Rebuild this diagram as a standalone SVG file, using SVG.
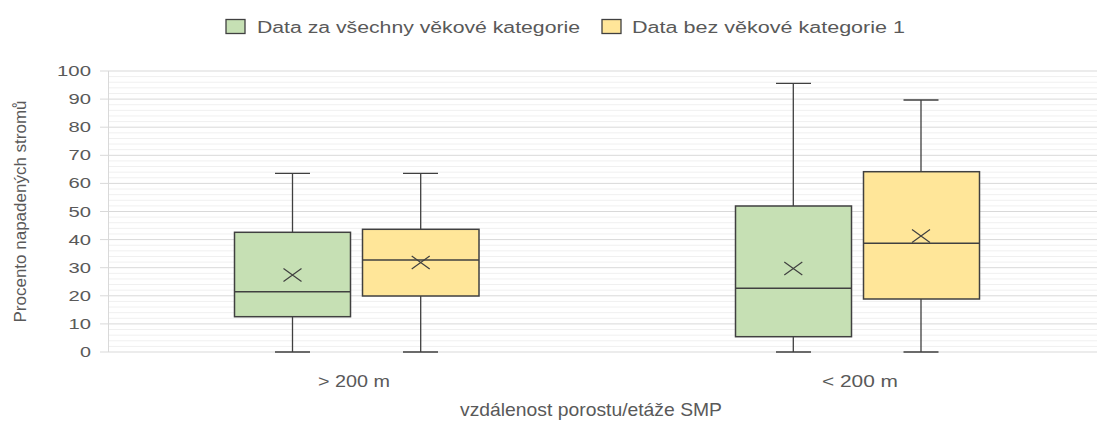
<svg xmlns="http://www.w3.org/2000/svg" width="1097" height="421" viewBox="0 0 1097 421">
<style>
  text { font-family: "Liberation Sans", Arial, sans-serif; fill: #595959; }
  .tick { font-size: 14px; text-anchor: end; }
  .leg { font-size: 16px; }
  .cat { font-size: 16px; text-anchor: middle; }
  .major { stroke: #d9d9d9; stroke-width: 1; fill: none; }
  .minor { stroke: #f0f0f0; stroke-width: 1; fill: none; }
  .box { stroke: #404040; stroke-width: 1.5; }
  .green { fill: #c6e0b4; }
  .yellow { fill: #ffe699; }
  .wh { stroke: #404040; stroke-width: 1.3; fill: none; }
  .mean { stroke: #404040; stroke-width: 1.2; fill: none; }
</style>
<rect width="1097" height="421" fill="#ffffff"/>

<g id="grid">
  <path class="minor" d="M108 346.38H1097M108 340.76H1097M108 335.14H1097M108 329.52H1097M108 318.28H1097M108 312.66H1097M108 307.04H1097M108 301.42H1097M108 290.18H1097M108 284.56H1097M108 278.94H1097M108 273.32H1097M108 262.08H1097M108 256.46H1097M108 250.84H1097M108 245.22H1097M108 233.98H1097M108 228.36H1097M108 222.74H1097M108 217.12H1097M108 205.88H1097M108 200.26H1097M108 194.64H1097M108 189.02H1097M108 177.78H1097M108 172.16H1097M108 166.54H1097M108 160.92H1097M108 149.68H1097M108 144.06H1097M108 138.44H1097M108 132.82H1097M108 121.58H1097M108 115.96H1097M108 110.34H1097M108 104.72H1097M108 93.48H1097M108 87.86H1097M108 82.24H1097M108 76.62H1097"/>
  <path class="major" d="M100 352H1097M100 323.9H1097M100 295.8H1097M100 267.7H1097M100 239.6H1097M100 211.5H1097M100 183.4H1097M100 155.3H1097M100 127.2H1097M100 99.1H1097M100 71H1097"/>
  <path class="major" d="M108.5 71V352"/>
</g>

<g id="y-axis">
  <text class="tick" x="91" y="357" textLength="11" lengthAdjust="spacingAndGlyphs">0</text>
  <text class="tick" x="91" y="328.9" textLength="22.5" lengthAdjust="spacingAndGlyphs">10</text>
  <text class="tick" x="91" y="300.8" textLength="22.5" lengthAdjust="spacingAndGlyphs">20</text>
  <text class="tick" x="91" y="272.7" textLength="22.5" lengthAdjust="spacingAndGlyphs">30</text>
  <text class="tick" x="91" y="244.6" textLength="22.5" lengthAdjust="spacingAndGlyphs">40</text>
  <text class="tick" x="91" y="216.5" textLength="22.5" lengthAdjust="spacingAndGlyphs">50</text>
  <text class="tick" x="91" y="188.4" textLength="22.5" lengthAdjust="spacingAndGlyphs">60</text>
  <text class="tick" x="91" y="160.3" textLength="22.5" lengthAdjust="spacingAndGlyphs">70</text>
  <text class="tick" x="91" y="132.2" textLength="22.5" lengthAdjust="spacingAndGlyphs">80</text>
  <text class="tick" x="91" y="104.1" textLength="22.5" lengthAdjust="spacingAndGlyphs">90</text>
  <text class="tick" x="91" y="76" textLength="34" lengthAdjust="spacingAndGlyphs">100</text>
  <text x="0" y="0" font-size="16" text-anchor="middle" transform="translate(25.5 211.5) rotate(-90)" textLength="222" lengthAdjust="spacingAndGlyphs">Procento napadených stromů</text>
</g>

<g id="legend">
  <rect class="green" x="226" y="19.5" width="19" height="14" stroke="#404040" stroke-width="1.3"/>
  <text class="leg" x="257" y="33" textLength="323" lengthAdjust="spacingAndGlyphs">Data za všechny věkové kategorie</text>
  <rect class="yellow" x="602" y="19.5" width="19" height="14" stroke="#404040" stroke-width="1.3"/>
  <text class="leg" x="632" y="33" textLength="273" lengthAdjust="spacingAndGlyphs">Data bez věkové kategorie 1</text>
</g>

<g id="connectors">
</g>

<g id="box-g1-all">
  <path class="wh" d="M292.5 173.3V232.3M292.5 316.7V352M275 173.3H310M275 352H310"/>
  <rect class="box green" x="234.5" y="232.3" width="116" height="84.4"/>
  <path class="box" d="M234.5 291.7H350.5"/>
  <path class="mean" d="M283.5 268.5L301.5 281.5M283.5 281.5L301.5 268.5"/>
</g>

<g id="box-g1-wo1">
  <path class="wh" d="M420.7 173.3V229.3M420.7 296V352M403 173.3H438M403 352H438"/>
  <rect class="box yellow" x="362.5" y="229.3" width="116.5" height="66.7"/>
  <path class="box" d="M362.5 260H479"/>
  <path class="mean" d="M411.7 256L429.7 269M411.7 269L429.7 256"/>
</g>

<g id="box-g2-all">
  <path class="wh" d="M793.3 83.3V206M793.3 336.7V352M776 83.3H811M776 352H811"/>
  <rect class="box green" x="735.5" y="206" width="116" height="130.7"/>
  <path class="box" d="M735.5 288.3H851.5"/>
  <path class="mean" d="M784.3 262L802.3 275M784.3 275L802.3 262"/>
</g>

<g id="box-g2-wo1">
  <path class="wh" d="M921 100V171.7M921 299V352M903.5 100H938.5M903.5 352H938.5"/>
  <rect class="box yellow" x="863.5" y="171.7" width="116" height="127.3"/>
  <path class="box" d="M863.5 243.3H979.5"/>
  <path class="mean" d="M912 229.5L930 242.5M912 242.5L930 229.5"/>
</g>

<g id="x-axis">
  <text class="cat" x="354" y="386.5" textLength="72" lengthAdjust="spacingAndGlyphs">&gt; 200 m</text>
  <text class="cat" x="860" y="386.5" textLength="76" lengthAdjust="spacingAndGlyphs">&lt; 200 m</text>
  <text x="591" y="415.5" font-size="19" text-anchor="middle" textLength="262" lengthAdjust="spacingAndGlyphs">vzdálenost porostu/etáže SMP</text>
</g>
</svg>
